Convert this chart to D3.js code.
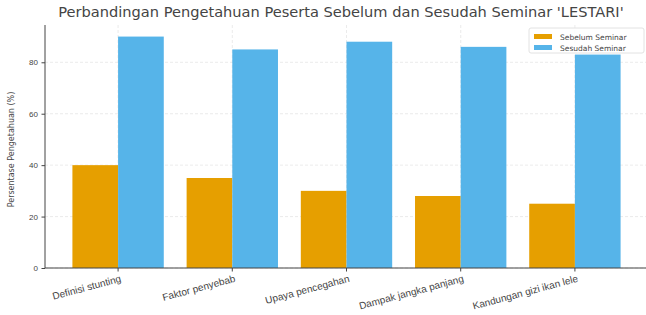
<!DOCTYPE html>
<html>
<head>
<meta charset="utf-8">
<script src="https://cdn.jsdelivr.net/npm/d3@7"></script>
<style>
  body { margin: 0; background: #fff; }
  svg { display: block; font-family: "DejaVu Sans", sans-serif; }
</style>
</head>
<body>
<div id="chart"></div>
<script>
const categories = ["Definisi stunting", "Faktor penyebab", "Upaya pencegahan", "Dampak jangka panjang", "Kandungan gizi ikan lele"];
const sebelum = [40, 35, 30, 28, 25];
const sesudah = [90, 85, 88, 86, 83];
const seriesNames = ["Sebelum Seminar", "Sesudah Seminar"];
const seriesColors = ["#E69F00", "#56B4E9"];
const yTicks = [0, 20, 40, 60, 80];

const width = 646, height = 315;
const marginLeft = 45, marginTop = 25, marginBottom = 47, plotRight = 648;

const svg = d3.select("#chart").append("svg")
  .attr("width", width)
  .attr("height", height);

const x = d3.scaleBand()
  .domain(d3.range(categories.length))
  .range([marginLeft, plotRight])
  .paddingInner(0.2)
  .paddingOuter(0.24);

const xSub = d3.scaleBand()
  .domain(d3.range(seriesNames.length))
  .range([0, x.bandwidth()]);

const y = d3.scaleLinear()
  .domain([0, 94.5])
  .range([height - marginBottom, marginTop]);

const yBottom = height - marginBottom;

// grid (faint, behind bars)
const grid = svg.append("g")
  .attr("stroke", "#d4d4d4")
  .attr("stroke-opacity", 0.6)
  .attr("stroke-width", 0.8)
  .attr("stroke-dasharray", "3,2");
grid.selectAll(".gy").data(yTicks).join("line")
  .attr("class", "gy")
  .attr("x1", marginLeft).attr("x2", plotRight)
  .attr("y1", d => y(d)).attr("y2", d => y(d));
grid.selectAll(".gx").data(d3.range(categories.length)).join("line")
  .attr("class", "gx")
  .attr("x1", i => x(i) + x.bandwidth() / 2).attr("x2", i => x(i) + x.bandwidth() / 2)
  .attr("y1", marginTop).attr("y2", yBottom);

// bars
const data = [sebelum, sesudah];
data.forEach((vals, s) => {
  svg.append("g")
    .attr("fill", seriesColors[s])
    .selectAll("rect")
    .data(vals)
    .join("rect")
    .attr("x", (d, i) => x(i) + xSub(s))
    .attr("width", xSub.bandwidth())
    .attr("y", d => y(d))
    .attr("height", d => yBottom - y(d));
});

// y axis
const yAxis = svg.append("g")
  .attr("transform", `translate(${marginLeft},0)`)
  .call(d3.axisLeft(y).tickValues(yTicks).tickSize(3.5).tickPadding(3.5));
yAxis.select(".domain").attr("stroke", "#444").attr("d", `M0,${yBottom}V${marginTop}`);
yAxis.selectAll("text").attr("font-size", 8).attr("fill", "#444");
yAxis.selectAll(".tick line").attr("stroke", "#444");

// x axis
const xAxis = svg.append("g")
  .attr("transform", `translate(0,${yBottom})`)
  .call(d3.axisBottom(x).tickFormat(i => categories[i]).tickSize(3.5).tickPadding(2));
xAxis.select(".domain").attr("stroke", "#444").attr("d", `M${marginLeft},0H${plotRight}`);
xAxis.selectAll(".tick line").attr("stroke", "#444");
xAxis.selectAll("text")
  .attr("font-size", 10)
  .attr("fill", "#444")
  .attr("text-anchor", "end")
  .attr("dy", "0.85em")
  .attr("transform", "rotate(-15)");

// y label
svg.append("text")
  .attr("transform", `translate(14,${(marginTop + yBottom) / 2 + 3}) rotate(-90)`)
  .attr("text-anchor", "middle")
  .attr("font-size", 8)
  .attr("fill", "#444")
  .text("Persentase Pengetahuan (%)");

// title
svg.append("text")
  .attr("x", 341)
  .attr("y", 17)
  .attr("text-anchor", "middle")
  .attr("font-size", 14.6)
  .attr("fill", "#444")
  .text("Perbandingan Pengetahuan Peserta Sebelum dan Sesudah Seminar 'LESTARI'");

// legend
const legend = svg.append("g").attr("transform", "translate(529,28)");
legend.append("rect")
  .attr("width", 115).attr("height", 25).attr("rx", 2)
  .attr("fill", "#fff").attr("fill-opacity", 0.8)
  .attr("stroke", "#e2e2e2");
seriesNames.forEach((name, i) => {
  const row = legend.append("g").attr("transform", `translate(5,${6 + i * 11})`);
  row.append("rect").attr("width", 18).attr("height", 5).attr("fill", seriesColors[i]);
  row.append("text").attr("x", 26).attr("y", 5.5)
    .attr("font-size", 7.5).attr("fill", "#444").text(name);
});
</script>
</body>
</html>
